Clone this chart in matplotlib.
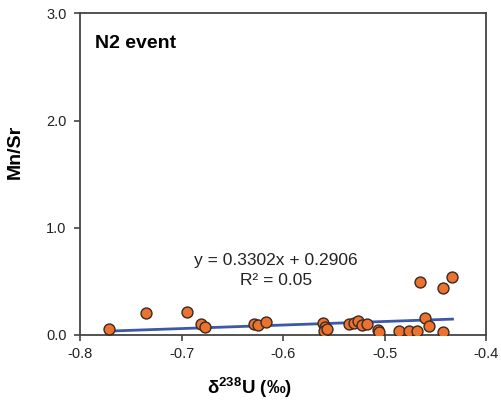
import matplotlib
matplotlib.use('Agg')
import matplotlib.pyplot as plt
import numpy as np

# delta 238U (permil) and Mn/Sr for the N2 event samples
d238u = [-0.772, -0.735, -0.695, -0.681, -0.677, -0.629, -0.625, -0.617,
         -0.561, -0.559, -0.560, -0.557, -0.535, -0.530, -0.526, -0.522,
         -0.517, -0.506, -0.505, -0.486, -0.476, -0.468, -0.465, -0.460,
         -0.456, -0.442, -0.442, -0.433]
mn_sr = [0.06, 0.20, 0.21, 0.10, 0.07, 0.10, 0.09, 0.12,
         0.11, 0.07, 0.04, 0.06, 0.10, 0.11, 0.13, 0.09,
         0.10, 0.05, 0.03, 0.04, 0.04, 0.04, 0.49, 0.16,
         0.08, 0.44, 0.03, 0.54]

slope = 0.3302
intercept = 0.2906
r2 = 0.05

x_ticks = [-0.8, -0.7, -0.6, -0.5, -0.4]
y_ticks = [0.0, 1.0, 2.0, 3.0]

plt.rcParams['font.family'] = ['Liberation Sans', 'DejaVu Sans']
plt.rcParams['mathtext.fontset'] = 'custom'
plt.rcParams['mathtext.rm'] = 'Liberation Sans'
plt.rcParams['mathtext.bf'] = 'Liberation Sans:bold'

fig = plt.figure(figsize=(5.02, 4.05), dpi=100)
ax = fig.add_axes([0.160, 0.173, 0.808, 0.794])

# fitted trend over the data range
x_fit = np.array([min(d238u), max(d238u)])
ax.plot(x_fit, slope * x_fit + intercept, color='#3B59A8', lw=2.0, zorder=2)
ax.scatter(d238u, mn_sr, s=62, facecolor='#EC7230', edgecolor='#3a2a20',
           linewidth=1.0, zorder=3)

ax.set_xlim(-0.8, -0.4)
ax.set_ylim(0, 3.0)
ax.set_xticks(x_ticks)
ax.set_xticklabels([f'{t:.1f}' for t in x_ticks])
ax.set_yticks(y_ticks)
ax.set_yticklabels([f'{t:.1f}' for t in y_ticks])
ax.tick_params(direction='out', length=4, width=1.2, color='#444444',
               labelsize=10.5, labelcolor='#222222')
ax.tick_params(axis='y', pad=6)
ax.tick_params(axis='x', pad=5)

for spine in ax.spines.values():
    spine.set_color('#444444')
    spine.set_linewidth(1.3)

ax.set_xlabel(r'δ$^{\mathbf{238}}$U (‰)', fontsize=13.5, fontweight='bold')
ax.xaxis.set_label_coords(0.418, -0.125)
ax.set_ylabel('Mn/Sr', fontsize=14, fontweight='bold')
ax.yaxis.set_label_coords(-0.140, 0.569)

ax.text(0.037, 0.905, 'N2 event', transform=ax.transAxes, fontsize=14,
        fontweight='bold', ha='left', va='center')
ax.text(-0.607, 0.60, f'y = {slope:.4f}x + {intercept:.4f}\nR² = {r2:.2f}',
        fontsize=12.5, ha='center', va='center', linespacing=1.4, color='#222222')

fig.savefig('out.png', dpi=100)
